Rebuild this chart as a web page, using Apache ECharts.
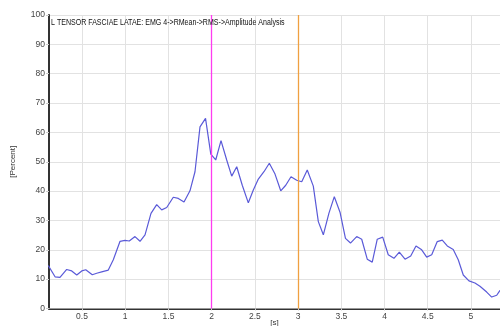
<!DOCTYPE html>
<html><head><meta charset="utf-8">
<script src="https://cdn.jsdelivr.net/npm/echarts@6/dist/echarts.min.js"></script>
<style>html,body{margin:0;padding:0;background:#fff}#c{width:500px;height:326px}</style>
</head><body><div id="c"></div>
<script>
const titleText = 'L TENSOR FASCIAE LATAE: EMG 4->RMean->RMS->Amplitude Analysis';
const times = [0.110,0.188,0.245,0.323,0.381,0.439,0.497,0.543,0.619,0.670,0.728,0.804,0.862,0.940,0.997,1.047,1.113,1.171,1.229,1.298,1.364,1.422,1.480,1.556,1.614,1.680,1.749,1.807,1.865,1.929,1.990,2.047,2.108,2.174,2.232,2.290,2.354,2.424,2.482,2.540,2.605,2.667,2.733,2.799,2.857,2.918,2.984,3.042,3.106,3.176,3.234,3.292,3.357,3.419,3.485,3.548,3.606,3.678,3.736,3.800,3.858,3.916,3.979,4.043,4.109,4.171,4.237,4.303,4.364,4.430,4.488,4.546,4.610,4.668,4.726,4.795,4.853,4.911,4.977,5.046,5.104,5.182,5.240,5.298,5.336];
const percent = [14.6,10.8,10.6,13.3,12.8,11.4,12.8,13.2,11.5,12.0,12.5,13.1,16.6,22.9,23.2,23.0,24.5,22.9,25.1,32.4,35.4,33.6,34.4,37.9,37.5,36.3,40.1,46.6,61.9,64.8,52.6,50.6,57.2,50.6,45.1,48.3,42.0,36.0,40.4,44.1,46.6,49.5,45.8,40.1,42.0,44.9,43.7,43.2,47.2,41.7,29.6,25.1,32.5,38.1,32.8,23.9,22.3,24.5,23.6,16.8,15.8,23.6,24.3,18.3,17.1,19.2,16.8,17.9,21.3,20.0,17.5,18.3,22.8,23.3,21.3,20.1,16.6,11.4,9.4,8.7,7.6,5.6,3.9,4.5,6.2];
const xTicks = [0.5,1,1.5,2,2.5,3,3.5,4,4.5,5];
const markerTimes = [2, 3];
const markerColors = ['#ff3cf0', '#f0a040'];
const xMin = 0.118, xMax = 5.336;

const chart = echarts.init(document.getElementById('c'), null, {renderer:'canvas'});
const font = 'Liberation Sans, Arial, sans-serif';
chart.setOption({
  animation:false,
  backgroundColor:'#fff',
  grid:{left:49, right:0, top:15, bottom:17.5, containLabel:false, outerBoundsMode:'none'},
  graphic:[{
    type:'text', left:51, top:18, scaleX:0.83, originX:0, originY:0, z:100,
    style:{text:titleText, fontSize:8.5, fill:'#111', fontFamily:font}
  }],
  xAxis:[{
    type:'value', min:xMin, max:xMax,
    name:'[s]', nameLocation:'middle', nameGap:10, nameMoveOverlap:false,
    nameTextStyle:{fontSize:8, color:'#333', fontFamily:font},
    axisLine:{show:true, onZero:false, lineStyle:{color:'#333', width:2}},
    axisTick:{show:true, customValues:xTicks, length:2, lineStyle:{color:'#ccc'}},
    axisLabel:{customValues:xTicks, fontSize:8.5, color:'#444', margin:4, fontFamily:font, formatter:v=>String(v)},
    splitLine:{show:true, lineStyle:{color:'#e2e2e2', width:1}}
  },{
    type:'value', position:'top', min:xMin, max:xMax,
    axisLine:{show:true, lineStyle:{color:'#999', width:1}},
    axisTick:{show:false}, axisLabel:{show:false}, splitLine:{show:false}
  }],
  yAxis:{
    type:'value', min:0, max:100, interval:10,
    name:'[Percent]', nameLocation:'middle', nameGap:32, nameRotate:90,
    nameTextStyle:{fontSize:8, color:'#333', fontFamily:font},
    axisLine:{show:true, lineStyle:{color:'#333', width:2}},
    axisTick:{show:true, length:3, lineStyle:{color:'#ccc'}},
    axisLabel:{fontSize:8.5, color:'#444', margin:4, fontFamily:font},
    splitLine:{show:true, lineStyle:{color:'#e2e2e2', width:1}}
  },
  series:[{
    type:'line', data:times.map((t,i)=>[t,percent[i]]),
    showSymbol:false, symbol:'none', clip:true,
    lineStyle:{color:'#5a5ad8', width:1.2},
    markLine:{
      symbol:['none','none'], silent:true, label:{show:false},
      data: markerTimes.map((t,i)=>({xAxis:t, lineStyle:{color:markerColors[i], type:'solid', width:1.3}}))
    }
  }]
});
</script></body></html>
